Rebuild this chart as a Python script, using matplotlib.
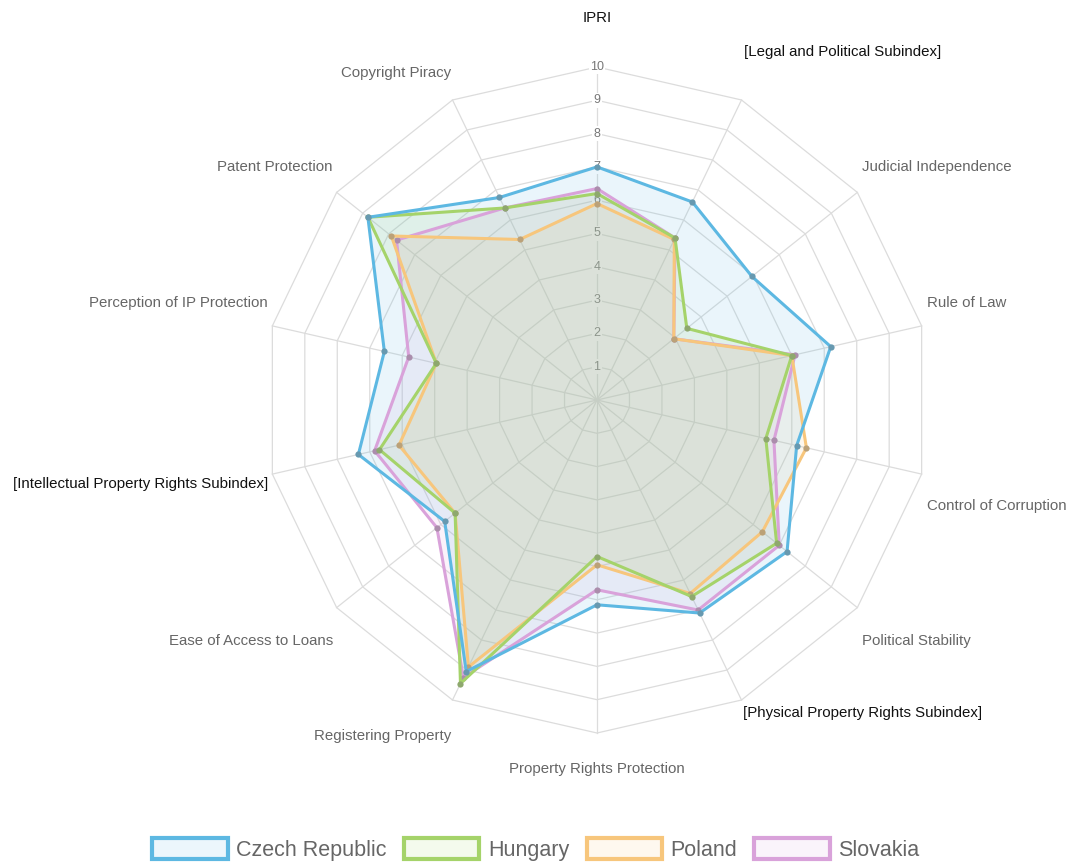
import numpy as np
import matplotlib
matplotlib.use("Agg")
import matplotlib.pyplot as plt
from matplotlib.patches import Patch

plt.rcParams['font.family'] = ['Liberation Sans', 'DejaVu Sans']

labels = ["IPRI", "[Legal and Political Subindex]", "Judicial Independence", "Rule of Law",
          "Control of Corruption", "Political Stability", "[Physical Property Rights Subindex]",
          "Property Rights Protection", "Registering Property", "Ease of Access to Loans",
          "[Intellectual Property Rights Subindex]", "Perception of IP Protection",
          "Patent Protection", "Copyright Piracy"]

countries = ["Czech Republic", "Hungary", "Poland", "Slovakia"]
czech = [7.0, 6.6, 5.95, 7.2, 6.15, 7.3, 7.1, 6.15, 9.05, 5.85, 7.35, 6.55, 8.8, 6.75]
hungary = [6.2, 5.4, 3.45, 6.0, 5.2, 6.9, 6.55, 4.7, 9.45, 5.45, 6.7, 4.95, 8.8, 6.4]
poland = [5.9, 5.35, 2.95, 6.0, 6.45, 6.35, 6.45, 4.95, 8.9, 5.45, 6.1, 4.95, 7.9, 5.35]
slovakia = [6.35, 5.4, 2.95, 6.1, 5.45, 7.0, 7.0, 5.7, 9.25, 6.15, 6.85, 5.8, 7.7, 6.4]
series = [czech, hungary, poland, slovakia]
colors = ["#5DB8E2", "#A5D36A", "#F7C67C", "#D9A2DA"]
ticks = list(range(1, 11))

W, H, DPI = 1072, 863, 100
cx, cy = 597, 400          # pixel centre
unit = 33.3                # pixels per value unit

fig = plt.figure(figsize=(W / DPI, H / DPI), dpi=DPI)
ax = fig.add_axes([0, 0, 1, 1])
ax.set_xlim(-cx / unit, (W - cx) / unit)
ax.set_ylim(-(H - cy) / unit, cy / unit)
ax.axis('off')

n = len(labels)
ang = np.arange(n) * 2 * np.pi / n
sx, sy = np.sin(ang), np.cos(ang)

grid_c = "#dcdcdc"
# polygon grid rings
for r in ticks:
    ax.plot(np.append(sx, sx[0]) * r, np.append(sy, sy[0]) * r, color=grid_c, lw=0.9, zorder=1)
# spokes
for i in range(n):
    ax.plot([0, sx[i] * 10], [0, sy[i] * 10], color=grid_c, lw=0.9, zorder=1)

# tick labels
for t in ticks:
    ax.text(0, t, str(t), ha='center', va='center', fontsize=9, color='#777777', zorder=2,
            bbox=dict(boxstyle='square,pad=0.1', fc='white', ec='none'))

# data
for k in range(len(series) - 1, -1, -1):
    v = np.array(series[k])
    x = np.append(sx * v, sx[0] * v[0])
    y = np.append(sy * v, sy[0] * v[0])
    z = 10 + (len(series) - k)
    rgb = np.array(matplotlib.colors.to_rgb(colors[k]))
    dark = tuple(0.55 * rgb + 0.45 * np.array([0.45, 0.45, 0.45]))
    ax.fill(x, y, color=colors[k], alpha=0.13, lw=0, zorder=3)
    ax.plot(x, y, color=colors[k], lw=2.2, zorder=z, solid_joinstyle='miter')
    ax.plot(sx * v, sy * v, 'o', ms=4.5, mfc=dark, mec='none', zorder=z + 0.5)

# axis labels: offsets (pixels) from axis tip, and alignment
offs = [(0, -49, 'center'), (2.5, -48, 'left'), (4.5, -25.5, 'left'), (5, -22.6, 'left'),
        (5.4, 32, 'left'), (4.7, 33.4, 'left'), (1.5, 13, 'left'), (0, 36, 'center'),
        (-1.5, 36, 'right'), (-3.7, 33.4, 'right'), (-4.4, 10, 'right'), (-4.4, -23, 'right'),
        (-3.7, -25.4, 'right'), (-1.5, -27, 'right')]
for i, lab in enumerate(labels):
    dx, dy, ha = offs[i]
    tx = sx[i] * 10 + dx / unit
    ty = sy[i] * 10 - dy / unit
    col = '#111111' if (lab.startswith('[') or lab == 'IPRI') else '#666666'
    ax.text(tx, ty, lab, ha=ha, va='center', fontsize=10.8, color=col)

handles = [Patch(facecolor=c, edgecolor=c, lw=3) for c in colors]
# lighter face for legend boxes
for h, c in zip(handles, colors):
    rgb = np.array(matplotlib.colors.to_rgb(c))
    h.set_facecolor(tuple(1 - 0.12 * (1 - rgb)))
leg = fig.legend(handles, countries, loc='center', bbox_to_anchor=(0.5, 13.5 / H), ncol=4,
                 frameon=False, fontsize=15.5, handlelength=3.5, handleheight=1.1,
                 handletextpad=0.4, columnspacing=0.8, labelcolor='#666666')

fig.savefig("out.png", dpi=DPI)
